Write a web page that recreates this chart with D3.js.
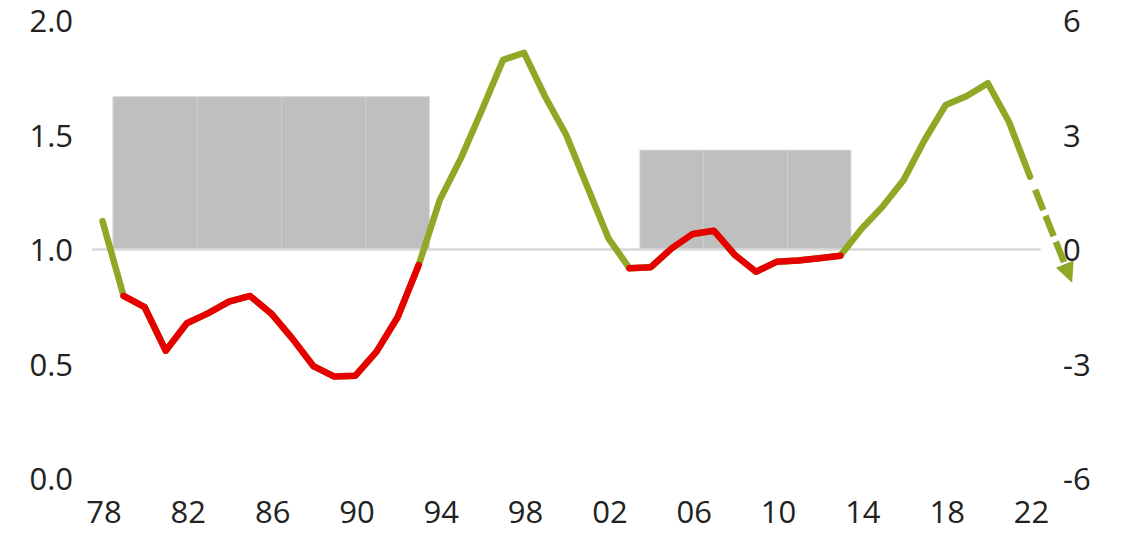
<!DOCTYPE html>
<html>
<head>
<meta charset="utf-8">
<script src="https://cdn.jsdelivr.net/npm/d3@7"></script>
<style>
  html, body { margin: 0; padding: 0; background: #fff; }
  svg { display: block; }
  text { font-family: "Open Sans", "Noto Sans", sans-serif; }
</style>
</head>
<body>
<svg id="chart" width="1122" height="533"></svg>
<script>
// ---- data ----
const years = [1978,1979,1980,1981,1982,1983,1984,1985,1986,1987,1988,1989,1990,1991,1992,1993,1994,1995,1996,1997,1998,1999,2000,2001,2002,2003,2004,2005,2006,2007,2008,2009,2010,2011,2012,2013,2014,2015,2016,2017,2018,2019,2020,2021,2022];
const values = [1.124,0.797,0.748,0.558,0.678,0.721,0.772,0.797,0.721,0.612,0.491,0.445,0.449,0.554,0.704,0.932,1.216,1.398,1.609,1.828,1.859,1.667,1.500,1.274,1.049,0.918,0.922,1.005,1.068,1.082,0.976,0.903,0.947,0.952,0.962,0.973,1.090,1.187,1.303,1.478,1.631,1.670,1.726,1.558,1.318];
const forecastYears = [2022, 2024];
const forecastValues = [1.318, 0.855];
// red (regime) periods on the line
const redStart = [1979, 2003];
const redEnd = [1993, 2013];
// shaded columns (right axis values)
const shadeStart = [1978.5, 1982.5, 1986.5, 1990.5, 2003.5, 2006.5, 2010.5];
const shadeEnd   = [1982.5, 1986.5, 1990.5, 1993.5, 2006.5, 2010.5, 2013.5];
const shadeValue = [4, 4, 4, 4, 2.6, 2.6, 2.6];
// tick labels
const leftTicks = [0, 0.5, 1, 1.5, 2];
const rightTicks = [-6, -3, 0, 3, 6];
const xTicks = [1978,1982,1986,1990,1994,1998,2002,2006,2010,2014,2018,2022];

// ---- styles ----
const GREEN = "#8fa926";
const RED = "#e60000";
const GRAY = "#bfbfbf";
const TEXT = "#222222";
const FONT = 31;

const svg = d3.select("#chart");
const x = d3.scaleLinear().domain([1978, 2022]).range([102.5, 1030]);
const yL = d3.scaleLinear().domain([0, 2]).range([478.5, 20.5]);
const yR = d3.scaleLinear().domain([-6, 6]).range([478.5, 20.5]);

// shaded columns
const shade = shadeStart.map((s, i) => ({s, e: shadeEnd[i], v: shadeValue[i]}));
svg.append("g").selectAll("rect").data(shade).join("rect")
  .attr("x", d => x(d.s))
  .attr("width", d => x(d.e) - x(d.s))
  .attr("y", d => yR(d.v))
  .attr("height", d => yR(0) - yR(d.v))
  .attr("fill", GRAY)
  .attr("stroke", "#cdcdcd")
  .attr("stroke-width", 1);

// baseline at 1.0 / 0
svg.append("line")
  .attr("x1", x(1977.5)).attr("x2", x(2022.5))
  .attr("y1", yL(1)).attr("y2", yL(1))
  .attr("stroke", "#d9d9d9").attr("stroke-width", 2.5);

// line series
const pts = years.map((yr, i) => ({yr, v: values[i]}));
const line = d3.line().x(d => x(d.yr)).y(d => yL(d.v));
svg.append("path").datum(pts)
  .attr("d", line).attr("fill", "none")
  .attr("stroke", GREEN).attr("stroke-width", 6.5)
  .attr("stroke-linejoin", "round").attr("stroke-linecap", "round");

redStart.forEach((s, i) => {
  const seg = pts.filter(d => d.yr >= s && d.yr <= redEnd[i]);
  svg.append("path").datum(seg)
    .attr("d", line).attr("fill", "none")
    .attr("stroke", RED).attr("stroke-width", 6.5)
    .attr("stroke-linejoin", "round").attr("stroke-linecap", "round");
});

// forecast dashed arrow
const p0 = [x(forecastYears[0]), yL(forecastValues[0])];
const p1 = [x(forecastYears[1]), yL(forecastValues[1])];
const dx = p1[0] - p0[0], dy = p1[1] - p0[1];
const len = Math.hypot(dx, dy);
const ux = dx / len, uy = dy / len;
const headLen = 20, headHalf = 9.5;
const base = [p1[0] - headLen * ux, p1[1] - headLen * uy];
svg.append("line")
  .attr("x1", p0[0]).attr("y1", p0[1])
  .attr("x2", base[0] + 2 * ux).attr("y2", base[1] + 2 * uy)
  .attr("stroke", GREEN).attr("stroke-width", 6.5)
  .attr("stroke-dasharray", "0 14 22 6 22 6 22 200");
svg.append("path")
  .attr("d", d3.line()([
    p1,
    [base[0] - headHalf * uy, base[1] + headHalf * ux],
    [base[0] + headHalf * uy, base[1] - headHalf * ux]
  ]) + "Z")
  .attr("fill", GREEN);

// axes
const gL = svg.append("g").attr("transform", "translate(80,0)")
  .call(d3.axisLeft(yL).tickValues(leftTicks).tickFormat(d3.format(".1f")).tickSize(0).tickPadding(7));
const gR = svg.append("g").attr("transform", "translate(1056,0)")
  .call(d3.axisRight(yR).tickValues(rightTicks).tickFormat(d => String(d)).tickSize(0).tickPadding(7));
const gB = svg.append("g").attr("transform", "translate(1,501)")
  .call(d3.axisBottom(x).tickValues(xTicks).tickFormat(d => String(d % 100).padStart(2, "0")).tickSize(0).tickPadding(0));

[gL, gR, gB].forEach(g => {
  g.select(".domain").remove();
  g.selectAll("text").attr("font-size", FONT).attr("fill", TEXT)
    .attr("font-family", '"Open Sans", "Noto Sans", sans-serif');
});
gL.selectAll("text").attr("dy", "0.36em");
gR.selectAll("text").attr("dy", "0.36em");
gB.selectAll("text").attr("dy", "0.71em");
</script>
</body>
</html>
